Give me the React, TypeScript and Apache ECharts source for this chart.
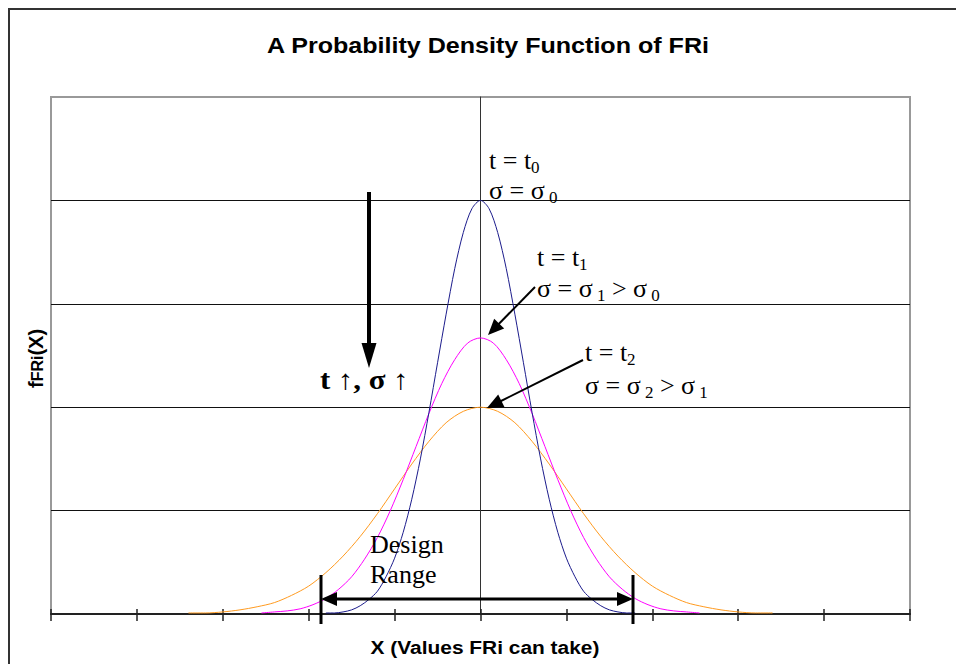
import React, { useEffect, useRef } from "react";
import * as echarts from "echarts";

// ---- data ----
const xTicks = [-5, 5];
const yRange = [0, 5];

const blueX = [-1.8, -1.7, -1.6, -1.5, -1.4, -1.3, -1.2, -1.1, -1.0, -0.9, -0.8, -0.7, -0.6, -0.5, -0.4, -0.3, -0.2, -0.1, 0, 0.1, 0.2, 0.3, 0.4, 0.5, 0.6, 0.7, 0.8, 0.9, 1.0, 1.1, 1.2, 1.3, 1.4, 1.5, 1.6, 1.7, 1.8];
const blueY = [0.01, 0.01, 0.02, 0.04, 0.08, 0.14, 0.22, 0.36, 0.54, 0.79, 1.11, 1.5, 1.95, 2.43, 2.9, 3.34, 3.69, 3.92, 4.0, 3.92, 3.69, 3.34, 2.9, 2.43, 1.95, 1.5, 1.11, 0.79, 0.54, 0.36, 0.22, 0.14, 0.08, 0.04, 0.02, 0.01, 0.01];

const magentaX = [-2.55, -2.4, -2.25, -2.1, -1.95, -1.8, -1.65, -1.5, -1.35, -1.2, -1.05, -0.9, -0.75, -0.6, -0.45, -0.3, -0.15, 0, 0.15, 0.3, 0.45, 0.6, 0.75, 0.9, 1.05, 1.2, 1.35, 1.5, 1.65, 1.8, 1.95, 2.1, 2.25, 2.4, 2.55];
const magentaY = [0.01, 0.02, 0.03, 0.05, 0.09, 0.15, 0.24, 0.36, 0.53, 0.74, 1.0, 1.3, 1.62, 1.94, 2.23, 2.46, 2.62, 2.67, 2.62, 2.46, 2.23, 1.94, 1.62, 1.3, 1.0, 0.74, 0.53, 0.36, 0.24, 0.15, 0.09, 0.05, 0.03, 0.02, 0.01];

const orangeX = [-3.4, -3.2, -3.0, -2.8, -2.6, -2.4, -2.2, -2.0, -1.8, -1.6, -1.4, -1.2, -1.0, -0.8, -0.6, -0.4, -0.2, 0, 0.2, 0.4, 0.6, 0.8, 1.0, 1.2, 1.4, 1.6, 1.8, 2.0, 2.2, 2.4, 2.6, 2.8, 3.0, 3.2, 3.4];
const orangeY = [0.01, 0.01, 0.02, 0.04, 0.07, 0.11, 0.18, 0.27, 0.4, 0.56, 0.75, 0.97, 1.21, 1.45, 1.67, 1.85, 1.96, 2.0, 1.96, 1.85, 1.67, 1.45, 1.21, 0.97, 0.75, 0.56, 0.4, 0.27, 0.18, 0.11, 0.07, 0.04, 0.02, 0.01, 0.01];

const titleText = "A Probability Density Function of FRi";
const xAxisName = "X (Values FRi can take)";

const SERIF = "'Liberation Serif', 'Times New Roman', serif";
const SANS = "'Liberation Sans', Arial, sans-serif";

let measureCtx: CanvasRenderingContext2D | null = null;
function measure(text: string, font: string): number {
  if (!measureCtx) measureCtx = document.createElement("canvas").getContext("2d");
  if (!measureCtx) return text.length * 10;
  measureCtx.font = font;
  return measureCtx.measureText(text).width;
}

type Seg = { t: string; size: number; dy?: number; bold?: boolean; sx?: number };

function segText(x: number, baseline: number, segs: Seg[], family: string, familyName: string) {
  const out: any[] = [];
  let cx = x;
  for (const s of segs) {
    const sx = s.sx || 1;
    const w = measure(s.t, `${s.bold ? "bold " : ""}${s.size}px ${familyName}`) * sx;
    out.push({
      type: "text",
      x: cx,
      y: baseline + (s.dy || 0) - 0.34 * s.size,
      scaleX: sx,
      z: 100,
      style: {
        text: s.t,
        fontSize: s.size,
        fontFamily: family,
        fontWeight: s.bold ? "bold" : "normal",
        fill: "#000",
        align: "left",
        verticalAlign: "middle",
      },
    });
    cx += w;
  }
  return out;
}

function arrow(x1: number, y1: number, x2: number, y2: number, lw: number, L: number, W: number, both = false) {
  const dx = x2 - x1, dy = y2 - y1;
  const len = Math.hypot(dx, dy);
  const ux = dx / len, uy = dy / len;
  const px = -uy, py = ux;
  const head = (tx: number, ty: number, dirx: number, diry: number) => ({
    type: "polygon",
    z: 100,
    shape: {
      points: [
        [tx, ty],
        [tx - dirx * L + px * W, ty - diry * L + py * W],
        [tx - dirx * L - px * W, ty - diry * L - py * W],
      ],
    },
    style: { fill: "#000" },
  });
  const sx = both ? x1 + ux * (L - 2) : x1;
  const sy = both ? y1 + uy * (L - 2) : y1;
  const els: any[] = [
    {
      type: "line",
      z: 100,
      shape: { x1: sx, y1: sy, x2: x2 - ux * (L - 2), y2: y2 - uy * (L - 2) },
      style: { stroke: "#000", lineWidth: lw },
    },
    head(x2, y2, ux, uy),
  ];
  if (both) els.push(head(x1, y1, -ux, -uy));
  return els;
}

export default function App() {
  const ref = useRef<HTMLDivElement>(null);

  useEffect(() => {
    if (!ref.current) return;
    const chart = echarts.init(ref.current, null, { renderer: "svg" });

    const toPairs = (xs: number[], ys: number[]) => xs.map((x, i) => [x, ys[i]]);

    const lineSeries = (name: string, xs: number[], ys: number[], color: string) => ({
      name,
      type: "line",
      data: toPairs(xs, ys),
      showSymbol: false,
      smooth: 0.3,
      lineStyle: { color, width: 1 },
      itemStyle: { color },
      silent: true,
    });

    const sub = 17;
    const big = 26;
    const graphics: any[] = [
      {
        type: "rect",
        z: 100,
        shape: { x: 9, y: 9, width: 1000, height: 700 },
        style: { fill: "none", stroke: "#333", lineWidth: 2 },
      },
      {
        type: "text",
        x: 488,
        y: 46,
        scaleX: 1.14,
        z: 100,
        style: {
          text: titleText,
          fontSize: 22,
          fontWeight: "bold",
          fontFamily: SANS,
          fill: "#000",
          align: "center",
          verticalAlign: "middle",
        },
      },
      {
        type: "text",
        x: 485,
        y: 647,
        scaleX: 1.1,
        z: 100,
        style: {
          text: xAxisName,
          fontSize: 19,
          fontWeight: "bold",
          fontFamily: SANS,
          fill: "#000",
          align: "center",
          verticalAlign: "middle",
        },
      },
      {
        type: "group",
        x: 43,
        y: 388,
        rotation: Math.PI / 2,
        children: segText(0, 0, [
          { t: "f", size: 20, bold: true },
          { t: "FRi", size: 16, bold: true },
          { t: "(X)", size: 20, bold: true },
        ], SANS, "'Liberation Sans'"),
      },
      ...segText(489, 169, [{ t: "t = t", size: big }, { t: "0", size: sub, dy: 4 }], SERIF, "'Liberation Serif'"),
      ...segText(489, 199, [{ t: "σ = σ", size: big }, { t: " 0", size: sub, dy: 4 }], SERIF, "'Liberation Serif'"),
      ...segText(537, 266, [{ t: "t = t", size: big }, { t: "1", size: sub, dy: 4 }], SERIF, "'Liberation Serif'"),
      ...segText(537, 297, [
        { t: "σ = σ", size: big },
        { t: " 1", size: sub, dy: 4 },
        { t: " > σ", size: big },
        { t: " 0", size: sub, dy: 4 },
      ], SERIF, "'Liberation Serif'"),
      ...segText(585, 361, [{ t: "t = t", size: big }, { t: "2", size: sub, dy: 4 }], SERIF, "'Liberation Serif'"),
      ...segText(585, 394, [
        { t: "σ = σ", size: big },
        { t: " 2", size: sub, dy: 4 },
        { t: " > σ", size: big },
        { t: " 1", size: sub, dy: 4 },
      ], SERIF, "'Liberation Serif'"),
      ...segText(370, 553, [{ t: "Design", size: big }], SERIF, "'Liberation Serif'"),
      ...segText(370, 583, [{ t: "Range", size: big }], SERIF, "'Liberation Serif'"),
      ...segText(320, 389, [{ t: "t ↑, σ ↑", size: 28, bold: true, sx: 1.1 }], SERIF, "'Liberation Serif'"),
      ...arrow(369, 192, 369, 368, 4, 25, 7.5),
      ...arrow(535, 287, 488, 335, 2, 16, 7),
      ...arrow(583, 360, 487, 408, 2, 16, 7),
      ...arrow(321, 599, 633, 599, 3, 16, 7, true),
      {
        type: "line",
        z: 100,
        shape: { x1: 321, y1: 575, x2: 321, y2: 624 },
        style: { stroke: "#000", lineWidth: 3 },
      },
      {
        type: "line",
        z: 100,
        shape: { x1: 633, y1: 575, x2: 633, y2: 624 },
        style: { stroke: "#000", lineWidth: 3 },
      },
    ];

    chart.setOption({
      animation: false,
      backgroundColor: "#fff",
      grid: {
        left: 51,
        right: 46,
        top: 97,
        bottom: 50,
        show: true,
        borderColor: "#999",
        borderWidth: 2,
        backgroundColor: "transparent",
      },
      xAxis: [
        {
          type: "value",
          min: xTicks[0],
          max: xTicks[1],
          interval: 1,
          axisLine: { show: true, onZero: true, lineStyle: { color: "#222", width: 2 } },
          axisTick: { show: true, inside: false, length: 7, lineStyle: { color: "#222", width: 1.5 } },
          axisLabel: { show: false },
          splitLine: { show: false },
        },
        {
          type: "value",
          min: xTicks[0],
          max: xTicks[1],
          interval: 1,
          position: "bottom",
          axisLine: { show: false },
          axisTick: { show: true, inside: true, length: 5, lineStyle: { color: "#222", width: 1.5 } },
          axisLabel: { show: false },
          splitLine: { show: false },
        },
      ],
      yAxis: {
        type: "value",
        min: yRange[0],
        max: yRange[1],
        interval: 1,
        axisLine: { show: true, onZero: true, lineStyle: { color: "#333", width: 1 } },
        axisTick: { show: false },
        axisLabel: { show: false },
        splitLine: { show: true, showMaxLine: false, lineStyle: { color: "#111", width: 1 } },
      },
      series: [
        lineSeries("t2", orangeX, orangeY, "#FF9A1F"),
        lineSeries("t1", magentaX, magentaY, "#FF00FF"),
        lineSeries("t0", blueX, blueY, "#1C1C8C"),
      ],
      graphic: graphics,
    });

    return () => chart.dispose();
  }, []);

  return (
    <div
      ref={ref}
      style={{ position: "absolute", left: 0, top: 0, width: 956, height: 664, background: "#fff" }}
    />
  );
}
